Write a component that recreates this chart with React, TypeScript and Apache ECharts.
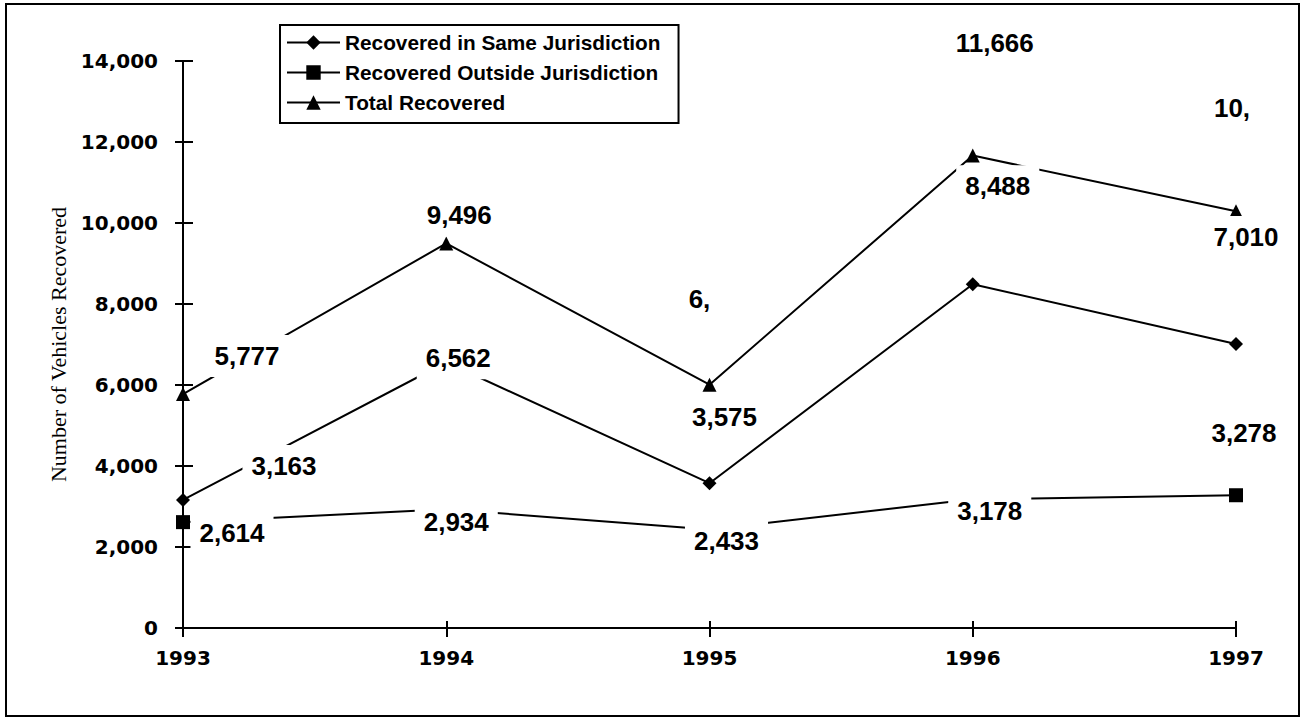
import React, { useEffect, useRef } from "react";
import * as echarts from "echarts";

const years = ["1993", "1994", "1995", "1996", "1997"];
const sameJurisdiction = [3163, 6562, 3575, 8488, 7010];
const outsideJurisdiction = [2614, 2934, 2433, 3178, 3278];
const totalRecovered = [5777, 9496, 6008, 11666, 10288];
const seriesNames = [
  "Recovered in Same Jurisdiction",
  "Recovered Outside Jurisdiction",
  "Total Recovered",
];
const yTicks = { min: 0, max: 14000, interval: 2000 };
const yAxisTitle = "Number of Vehicles Recovered";

// label placement (offsets from the point, pixels)
const sameOffsets = [[101, -34], [12, -4], [15, -66], [25, -98], [10, -107]];
const outsideOffsets = [[49, 11], [10, 13], [17, 12], [17, 12], [8, -62]];
const totalOffsets = [[64, -38], [13, -28], [-10, -86], [22, -113], [-4, -103]];
// number of visible characters in the original (clipped) labels; 0 = full
const totalVisibleChars = [0, 0, 2, 0, 3];

const FONT = "'Liberation Sans', Arial, Helvetica, sans-serif";
const AXIS_FONT = "'DejaVu Sans', 'Liberation Sans', sans-serif";

const fmt = (v: number) => v.toLocaleString("en-US");

function buildData(values: number[], offsets: number[][], visible?: number[]) {
  return values.map((v, i) => ({
    value: v,
    label: {
      offset: offsets[i],
      formatter: () => {
        const s = fmt(v);
        return visible && visible[i] ? s.slice(0, visible[i]) : s;
      },
    },
  }));
}

export default function App() {
  const ref = useRef<HTMLDivElement>(null);
  useEffect(() => {
    if (!ref.current) return;
    const chart = echarts.init(ref.current, undefined, { renderer: "svg" });
    const labelBase = {
      show: true,
      position: "inside",
      color: "#000",
      fontFamily: FONT,
      fontWeight: "bold",
      fontSize: 26,
      backgroundColor: "#fff",
      padding: [8, 9],
    };
    const lineBase = {
      type: "line",
      animation: false,
      symbolSize: 14,
      lineStyle: { color: "#000", width: 2 },
      itemStyle: { color: "#000" },
      emphasis: { disabled: true },
    };
    chart.setOption({
      animation: false,
      backgroundColor: "#fff",
      grid: { left: 183, right: 69, top: 61, bottom: 93, containLabel: false },
      graphic: [
        {
          type: "rect",
          shape: { x: 6, y: 4, width: 1293, height: 712 },
          style: { fill: "none", stroke: "#000", lineWidth: 2 },
          silent: true,
          z: 0,
        },
      ],
      legend: {
        left: 280,
        top: 25,
        orient: "vertical",
        backgroundColor: "#fff",
        borderColor: "#000",
        borderWidth: 2,
        padding: [7, 18, 10, 6],
        itemWidth: 53,
        itemHeight: 18,
        itemGap: 9,
        textStyle: {
          color: "#000",
          fontFamily: FONT,
          fontWeight: "bold",
          fontSize: 20.8,
          lineHeight: 18,
        },
        data: seriesNames,
      },
      xAxis: [
        {
          type: "category",
          data: years,
          boundaryGap: false,
          axisLine: { lineStyle: { color: "#000", width: 2 } },
          axisTick: { show: true, length: 9, lineStyle: { color: "#000", width: 2 } },
          axisLabel: {
            color: "#000",
            fontFamily: AXIS_FONT,
            fontWeight: "bold",
            fontSize: 20,
            margin: 20,
          },
        },
        {
          type: "category",
          data: years,
          boundaryGap: false,
          position: "bottom",
          axisLine: { show: false },
          axisTick: { show: true, inside: true, length: 7, lineStyle: { color: "#000", width: 2 } },
          axisLabel: { show: false },
        },
      ],
      yAxis: [
        {
          type: "value",
          min: yTicks.min,
          max: yTicks.max,
          interval: yTicks.interval,
          name: yAxisTitle,
          nameLocation: "middle",
          nameRotate: 90,
          nameGap: 114,
          nameTextStyle: {
            color: "#000",
            fontFamily: "'Liberation Serif', 'Times New Roman', serif",
            fontSize: 22,
          },
          splitLine: { show: false },
          axisLine: { show: true, lineStyle: { color: "#000", width: 2 } },
          axisTick: { show: true, length: 8, lineStyle: { color: "#000", width: 2 } },
          axisLabel: {
            color: "#000",
            fontFamily: AXIS_FONT,
            fontWeight: "bold",
            fontSize: 20,
            margin: 25,
            formatter: (v: number) => fmt(v),
          },
        },
        {
          type: "value",
          min: yTicks.min,
          max: yTicks.max,
          interval: yTicks.interval,
          position: "left",
          splitLine: { show: false },
          axisLine: { show: false },
          axisTick: { show: true, inside: true, length: 10, lineStyle: { color: "#000", width: 2 } },
          axisLabel: { show: false },
        },
      ],
      series: [
        {
          ...lineBase,
          name: seriesNames[2],
          symbol: "triangle",
          z: 2,
          label: labelBase,
          data: buildData(totalRecovered, totalOffsets, totalVisibleChars),
        },
        {
          ...lineBase,
          name: seriesNames[0],
          symbol: "diamond",
          z: 3,
          label: labelBase,
          data: buildData(sameJurisdiction, sameOffsets),
        },
        {
          ...lineBase,
          name: seriesNames[1],
          symbol: "rect",
          z: 4,
          label: labelBase,
          data: buildData(outsideJurisdiction, outsideOffsets),
        },
      ],
    });
    return () => chart.dispose();
  }, []);
  return (
    <div
      ref={ref}
      style={{ position: "absolute", left: 0, top: 0, width: 1305, height: 721 }}
    />
  );
}
